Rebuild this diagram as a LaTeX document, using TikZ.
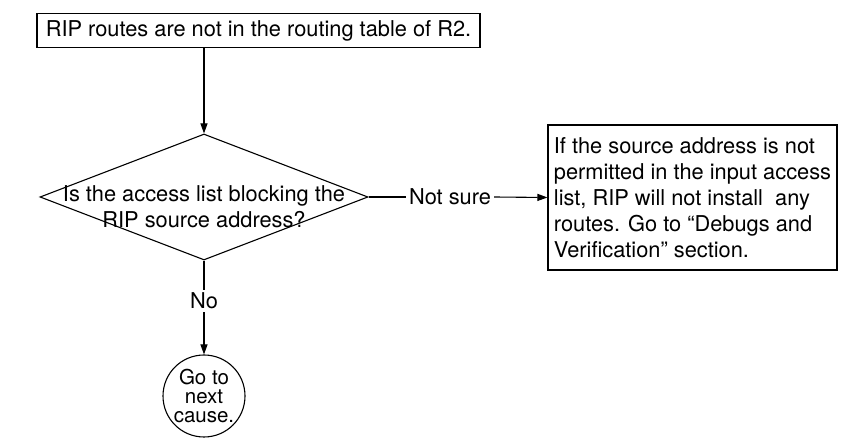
\documentclass[tikz,border=0pt]{standalone}
\usepackage{fontspec}
\setmainfont{TeX Gyre Heros}
\usetikzlibrary{shapes.geometric,arrows.meta}
\begin{document}
\begin{tikzpicture}[x=1pt,y=-1pt,
  every node/.style={font=\fontsize{21.8}{26}\selectfont},
  box/.style={draw,line width=1.1pt,rectangle,inner sep=0pt},
  decision/.style={draw,line width=1.1pt,diamond,inner sep=0pt},
  terminal/.style={draw,line width=1.1pt,circle,inner sep=0pt,align=center,
    font=\fontsize{20.5}{19}\selectfont},
  label/.style={inner sep=3pt},
  link/.style={line width=1.1pt},
  arr/.style={link,-{Triangle[length=10pt,width=7pt]}},
]
\useasboundingbox (0,0) rectangle (841,443);

% problem statement
\node[box,minimum width=443pt,minimum height=34pt] (start) at (258.5,30.5)
  {RIP routes are not in the routing table of R2.};

% decision and its question text
\node[decision,minimum width=328pt,minimum height=126pt] (q) at (204,197) {};
\node[align=center,inner sep=0pt] (qt) at (204,207)
  {Is the access list blocking the\\RIP source address?};

% advice box
\node[box,minimum width=289pt,minimum height=145pt,align=left] (advice) at (692.5,197.5)
  {If the source address is not\\
   permitted in the input access\\
   list, RIP will not install\ \ any\\
   routes. Go to “Debugs and\\
   Verification” section.};

% next-cause terminal
\node[terminal,minimum size=82pt] (next) at (204,396) {Go to\\next\\cause.};

% branch labels
\node[label] (notsure) at (450,197) {Not sure};
\node[label] (no) at (204,301) {No};

% connectors
\draw[arr] (start.south -| q.north) -- (q.north);
\draw[link] (q.east) -- (notsure.west);
\draw[arr] (notsure.east) -- (advice.west);
\draw[link] (q.south) -- (no.north);
\draw[arr] (no.south) -- (next.north);
\end{tikzpicture}
\end{document}
